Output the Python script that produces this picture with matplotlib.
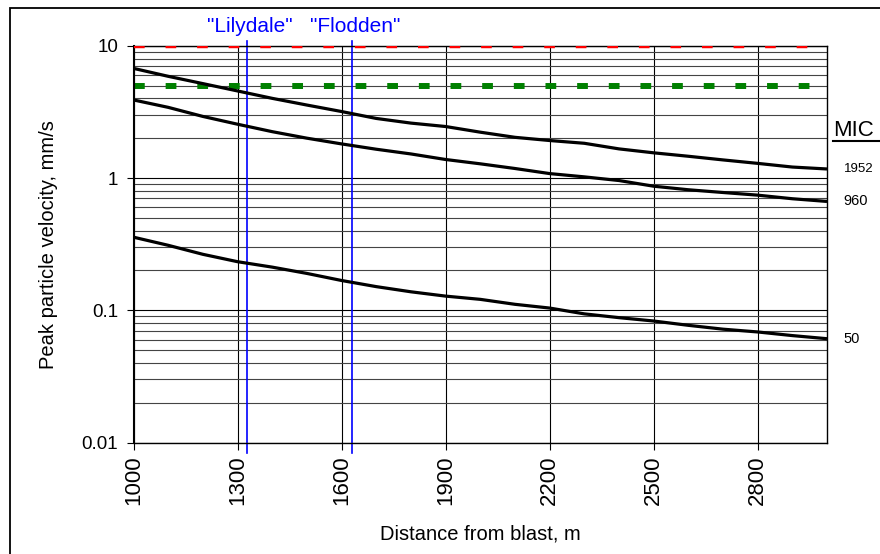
import numpy as np
import matplotlib
matplotlib.use('Agg')
import matplotlib.pyplot as plt
from matplotlib.lines import Line2D
from matplotlib.patches import Rectangle

plt.rcParams['font.family'] = ['Liberation Sans', 'DejaVu Sans']

# distance from blast (m)
distance = [1000, 1100, 1200, 1300, 1400, 1500, 1600, 1700, 1800, 1900, 2000,
            2100, 2200, 2300, 2400, 2500, 2600, 2700, 2800, 2900, 3000]

# peak particle velocity (mm/s) for each MIC
ppv_1952 = [6.74, 5.87, 5.17, 4.55, 4.00, 3.56, 3.18, 2.82, 2.60, 2.45, 2.22,
            2.03, 1.92, 1.83, 1.66, 1.55, 1.46, 1.37, 1.29, 1.21, 1.17]
ppv_960 = [3.89, 3.42, 2.92, 2.55, 2.24, 2.00, 1.81, 1.65, 1.52, 1.38, 1.28,
           1.18, 1.08, 1.02, 0.957, 0.867, 0.815, 0.777, 0.742, 0.697, 0.665]
ppv_50 = [0.357, 0.310, 0.265, 0.233, 0.212, 0.190, 0.168, 0.151, 0.138, 0.128, 0.121,
          0.111, 0.104, 0.094, 0.088, 0.083, 0.077, 0.072, 0.0686, 0.0644, 0.061]

mic_labels = ['1952', '960', '50']
limit_red = 10
limit_green = 5
sites = ['"Lilydale"', '"Flodden"']
site_dist = [1326, 1630]
xticks = [1000, 1300, 1600, 1900, 2200, 2500, 2800]
yticks = [0.01, 0.1, 1, 10]
ytick_labels = ['0.01', '0.1', '1', '10']

fig = plt.figure(figsize=(8.8, 5.54), dpi=100)
ax = fig.add_axes([133.5/880, 1-442.6/554, 693.5/880, 396.9/554])

ax.set_yscale('log')
ax.set_ylim(0.01, 10)
ax.set_xlim(1000, 3000)

# grid
ax.set_xticks(xticks)
ax.set_yticks(yticks)
ax.set_yticklabels(ytick_labels)
ax.yaxis.set_minor_locator(matplotlib.ticker.LogLocator(base=10, subs=np.arange(2, 10)))
ax.yaxis.set_minor_formatter(matplotlib.ticker.NullFormatter())
ax.grid(True, which='major', axis='both', color='black', lw=0.8)
ax.grid(True, which='minor', axis='y', color='#444444', lw=0.8)
ax.tick_params(axis='y', which='minor', length=0)
ax.tick_params(axis='y', which='major', length=5, width=0.8, pad=6, labelsize=13.5)
ax.tick_params(axis='x', which='major', length=5, width=0.8, pad=4, labelsize=16)
for lab in ax.get_xticklabels():
    lab.set_rotation(90)
for sp in ax.spines.values():
    sp.set_linewidth(1.0)
ax.spines['left'].set_linewidth(1.5)
ax.set_axisbelow(True)

# limit lines (red one sits on the top edge, drawn over the spine)
ax.axhline(limit_red, color='red', lw=3.2, dashes=(2.4, 4.7), zorder=3)
ax.axhline(limit_green, color='#008000', lw=4.3, dashes=(1.8, 3.5))

# site lines
for name, d in zip(sites, site_dist):
    ax.axvline(d, ymin=-0.025, ymax=1.012, color='blue', lw=1.2, clip_on=False)
ax.text(1335, 1.049, sites[0], transform=ax.get_xaxis_transform(), color='blue',
        fontsize=15, ha='center', va='center')
ax.text(1640, 1.049, sites[1], transform=ax.get_xaxis_transform(), color='blue',
        fontsize=15, ha='center', va='center')

# curves
for vals, lab, fs in zip([ppv_1952, ppv_960, ppv_50], mic_labels, [9.5, 10.5, 10.5]):
    ax.plot(distance, vals, color='black', lw=2.3, solid_capstyle='butt')
    ax.annotate(lab, xy=(distance[-1], vals[-1]), xytext=(12, 0), textcoords='offset points',
                fontsize=fs, va='center', ha='left', annotation_clip=False)

# MIC header, underlined
fig.text(833/880, 1-130/554, 'MIC', fontsize=16, ha='left', va='center')
fig.add_artist(Line2D([833/880, 1.0], [1-141/554, 1-141/554], color='black', lw=1.5))

ax.set_xlabel('Distance from blast, m', fontsize=14.5, labelpad=14)
ax.set_ylabel('Peak particle velocity, mm/s', fontsize=14.5, labelpad=17)

# outer border
fig.add_artist(Rectangle((9.5/880, -0.1), 2, 1-8.3/554+0.1, transform=fig.transFigure,
                         fill=False, lw=1.3, edgecolor='black'))

plt.savefig('out.png', dpi=100)
